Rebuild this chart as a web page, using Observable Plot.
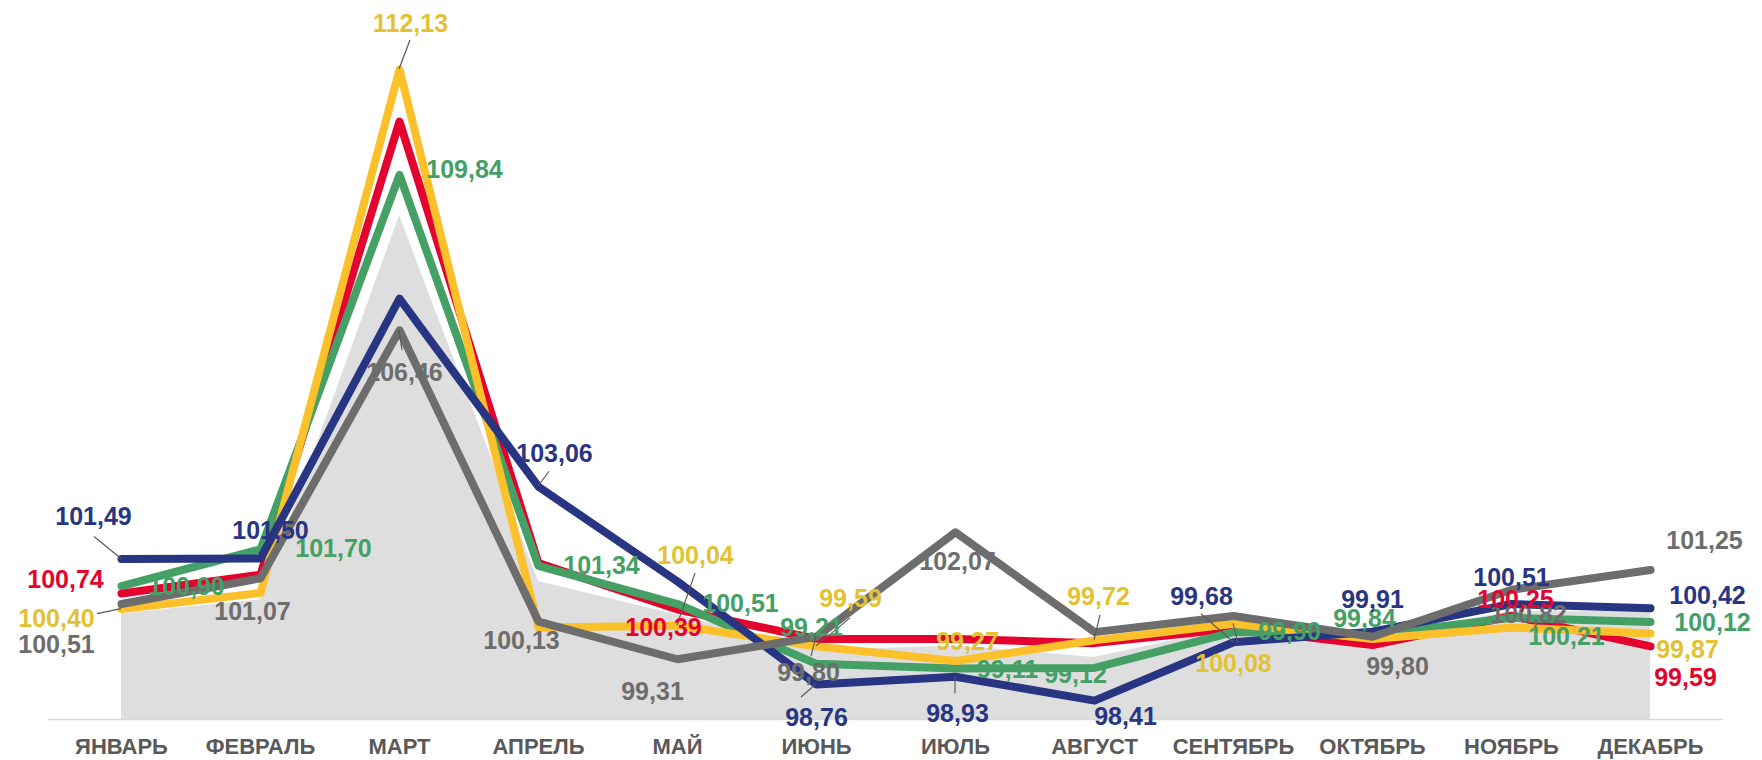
<!DOCTYPE html>
<html><head><meta charset="utf-8">
<script src="https://cdn.jsdelivr.net/npm/d3@7"></script>
<script src="https://cdn.jsdelivr.net/npm/@observablehq/plot@0.6"></script>
<style>
html,body{margin:0;padding:0;background:#fff;}
#chart{width:1762px;height:760px;overflow:hidden;}
</style>
</head><body><div id="chart"></div>
<script>
const months = ["ЯНВАРЬ","ФЕВРАЛЬ","МАРТ","АПРЕЛЬ","МАЙ","ИЮНЬ","ИЮЛЬ","АВГУСТ","СЕНТЯБРЬ","ОКТЯБРЬ","НОЯБРЬ","ДЕКАБРЬ"];

const blue   = [101.49, 101.50, 107.15, 103.06, 101.00, 98.76, 98.93, 98.41, 99.68, 99.91, 100.51, 100.42];
const red    = [100.74, 101.15, 111.00, 101.40, 100.39, 99.75, 99.75, 99.66, 99.98, 99.62, 100.25, 99.59];
const green  = [100.90, 101.70, 109.84, 101.34, 100.51, 99.21, 99.11, 99.12, 99.90, 99.84, 100.21, 100.12];
const yellow = [100.40, 100.75, 112.13, 100.00, 100.04, 99.59, 99.27, 99.72, 100.08, 99.75, 100.00, 99.87];
const gray   = [100.51, 101.07, 106.46, 100.13, 99.31, 99.80, 102.07, 99.90, 100.25, 99.80, 100.82, 101.25];
const area   = [100.30, 100.60, 108.95, 101.00, 100.27, 99.50, 99.60, 99.35, 100.00, 99.80, 100.35, 100.35];

const seriesValues = {blue, red, green, yellow, gray};
const lineColors = {blue:"#283583", red:"#e4032e", green:"#45a065", yellow:"#fcc02a", gray:"#6d6d6d"};
const textColors = {blue:"#283583", red:"#e4032e", green:"#45a065", yellow:"#e2c232", gray:"#6d6d6d"};
const drawOrder = ["red","green","yellow","blue","gray"];
const labelOrder = ["gray","yellow","green","red","blue"];

// label placement (pixel offsets from the data point); l = leader line end offset
const labelPlacement = [
  {s:"blue", m:0, dx:-28, dy:-42, l:[-27,-22]},
  {s:"blue", m:1, dx:10, dy:-28},
  {s:"blue", m:3, dx:16, dy:-33, l:[11,-15]},
  {s:"blue", m:5, dx:0, dy:33, l:[-15,13]},
  {s:"blue", m:6, dx:2, dy:37, l:[0,17]},
  {s:"blue", m:7, dx:31, dy:16},
  {s:"blue", m:8, dx:-32, dy:-45, l:[-32,-28]},
  {s:"blue", m:9, dx:0, dy:-32},
  {s:"blue", m:10, dx:0, dy:-26},
  {s:"blue", m:11, dx:57, dy:-12},
  {s:"red", m:0, dx:-56, dy:-13},
  {s:"red", m:4, dx:-14, dy:18},
  {s:"red", m:10, dx:4, dy:-16},
  {s:"red", m:11, dx:35, dy:32},
  {s:"green", m:0, dx:65, dy:1},
  {s:"green", m:1, dx:73, dy:0},
  {s:"green", m:2, dx:65, dy:-5},
  {s:"green", m:3, dx:63, dy:0},
  {s:"green", m:4, dx:63, dy:0},
  {s:"green", m:5, dx:-5, dy:-36},
  {s:"green", m:6, dx:52, dy:2},
  {s:"green", m:7, dx:-19, dy:7},
  {s:"green", m:8, dx:56, dy:0},
  {s:"green", m:9, dx:-8, dy:-16},
  {s:"green", m:10, dx:55, dy:19},
  {s:"green", m:11, dx:62, dy:1},
  {s:"yellow", m:0, dx:-65, dy:10, l:[-24,5]},
  {s:"yellow", m:2, dx:11, dy:-46, l:[11,-29]},
  {s:"yellow", m:4, dx:18, dy:-70, l:[18,-52]},
  {s:"yellow", m:5, dx:34, dy:-47, l:[34,-28]},
  {s:"yellow", m:6, dx:12, dy:-19},
  {s:"yellow", m:7, dx:4, dy:-43, l:[6,-25]},
  {s:"yellow", m:8, dx:0, dy:40, l:[5,20]},
  {s:"yellow", m:11, dx:37, dy:17},
  {s:"gray", m:0, dx:-65, dy:41},
  {s:"gray", m:1, dx:-8, dy:34},
  {s:"gray", m:2, dx:5, dy:43, l:[3,20]},
  {s:"gray", m:3, dx:-17, dy:19},
  {s:"gray", m:4, dx:-25, dy:33},
  {s:"gray", m:5, dx:-8, dy:36, l:[-5,20]},
  {s:"gray", m:6, dx:2, dy:30},
  {s:"gray", m:9, dx:25, dy:30},
  {s:"gray", m:10, dx:17, dy:25},
  {s:"gray", m:11, dx:54, dy:-29}
];

const fmt = v => v.toFixed(2).replace(".", ",");
const areaRows = months.map((m, i) => ({month: m, value: area[i]}));

const marks = [
  Plot.areaY(areaRows, {x: "month", y1: 98, y2: "value", fill: "#dedede"}),
  Plot.ruleY([98], {stroke: "#d9d9d9", strokeWidth: 1.5}),
  Plot.axisX({tickSize: 0, tickPadding: 19, fontSize: 22, fontWeight: "bold", fill: "#595959", label: null})
];
for (const key of drawOrder) {
  const rows = months.map((m, i) => ({month: m, value: seriesValues[key][i]}));
  marks.push(Plot.line(rows, {x: "month", y: "value", stroke: lineColors[key], strokeWidth: 8,
    strokeLinejoin: "round", strokeLinecap: "round"}));
}
for (const key of labelOrder) {
  for (const p of labelPlacement.filter(d => d.s === key)) {
    marks.push(Plot.text([{month: months[p.m], value: seriesValues[key][p.m]}], {
      x: "month", y: "value", text: d => fmt(d.value), dx: p.dx, dy: p.dy,
      fill: textColors[key], fontSize: 25, fontWeight: "bold"
    }));
  }
}

const chart = Plot.plot({
  width: 1762, height: 760,
  marginLeft: 48, marginRight: 39, marginTop: 6, marginBottom: 41,
  style: {fontFamily: "'Liberation Sans', Arial, sans-serif", background: "#fff"},
  x: {type: "point", domain: months, padding: 0.5, axis: null, label: null},
  y: {domain: [98, 113.5], axis: null},
  marks
});

// leader lines through the plot's own scales
const sx = chart.scale("x"), sy = chart.scale("y");
const svg = d3.select(chart);
const g = svg.append("g").attr("stroke", "#595959").attr("stroke-width", 1.2);
for (const p of labelPlacement.filter(d => d.l)) {
  const px = sx.apply(months[p.m]), py = sy.apply(seriesValues[p.s][p.m]);
  g.append("line").attr("x1", px).attr("y1", py).attr("x2", px + p.l[0]).attr("y2", py + p.l[1]);
}
svg.selectAll("g[aria-label='text']").raise();

document.getElementById("chart").appendChild(chart);
</script>
</body></html>
